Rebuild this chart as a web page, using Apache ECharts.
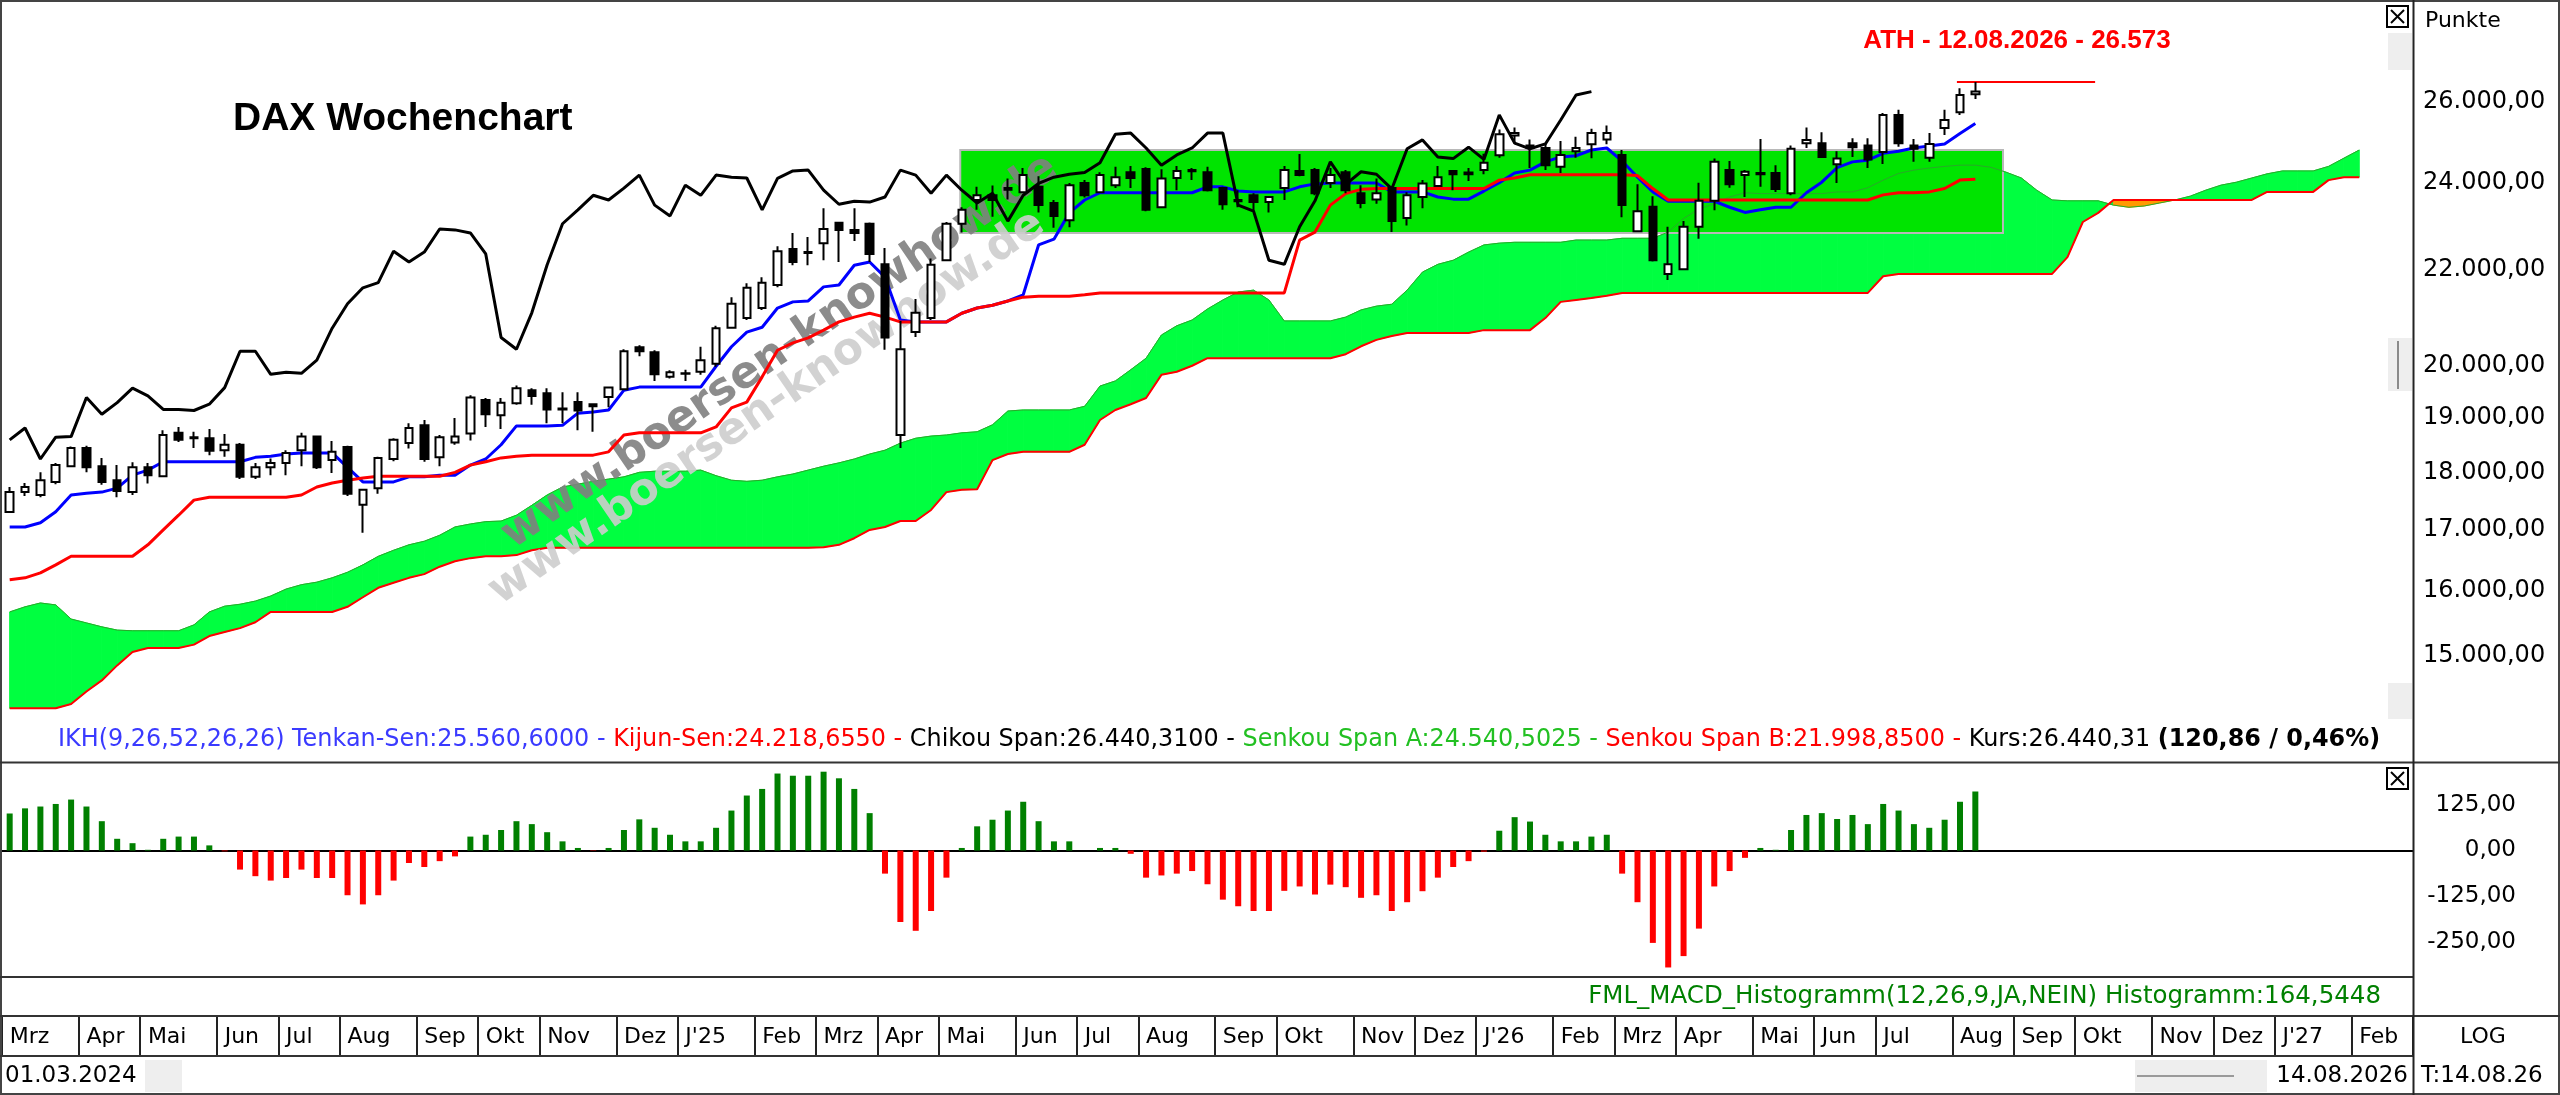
<!DOCTYPE html>
<html><head><meta charset="utf-8">
<script src="https://cdn.jsdelivr.net/npm/echarts@6/dist/echarts.min.js"></script>
<style>html,body{margin:0;padding:0;background:#fff}#c{width:2560px;height:1095px}</style>
</head><body><div id="c"></div>
<script>
// ---- weekly DAX data (index 0 = week of 01.03.2024, last = 14.08.2026) ----
const opens = [17305,17650,17600,17830,18110,18440,18110,17860,17650,18090,
17930,18720,18640,18620,18400,18500,17920,18090,18170,18400,
18650,18220,18460,17430,17720,18240,18530,18860,18270,18540,
18710,19340,19050,19280,19530,19470,19180,19300,19220,19400,
19550,20380,20280,19790,19850,19890,20050,20780,20980,21190,
21680,22470,22380,22600,23060,22900,23040,22130,18680,20690,
20980,22220,23040,23590,23700,23830,23770,23900,23520,23120,
23990,23770,23940,24250,24330,23420,24110,24270,24250,23870,
23590,23700,23540,23870,24280,24300,23990,24250,23750,23600,
23870,23170,23660,23920,24280,24200,24300,24660,25150,24900,
24840,24380,24760,24930,25050,24670,22870,23430,21920,22020,
22970,23570,24300,24180,24230,24230,23750,24960,24960,24440,
24960,24900,24740,25670,24900,24600,25340,25740,26200];
const closes = [17650,17740,17860,18130,18440,18090,17830,17670,18090,17950,
18680,18590,18620,18390,18500,17920,18090,18170,18350,18650,
18090,18370,17620,17690,18260,18590,18810,18240,18640,18650,
19390,19070,19290,19570,19420,19160,19160,19140,19260,19580,
20300,20300,19840,19880,19860,20120,20770,21280,21620,21730,
22420,22180,22400,22920,22900,22830,22360,20580,20340,21090,
22120,23040,23360,23700,23590,23870,24180,23470,23220,23940,
23700,24180,24130,24110,23360,24100,24280,24300,23820,23490,
23560,23540,23660,24300,24180,23750,24180,23820,23520,23750,
23100,23700,23980,24130,24200,24240,24480,25180,25210,24840,
24420,24670,24840,25210,25210,23470,23330,22220,22130,22970,
23570,24500,23960,24260,24200,23850,24820,25040,24620,24580,
24860,24560,25670,24960,24820,24940,25540,26180,26270];
const lows = [17290,17580,17560,17790,18090,18000,17780,17560,17600,17800,
17920,18550,18440,18310,18280,17880,17880,17950,17950,18110,
18060,17990,17580,16950,17620,18200,18430,18190,18110,18500,
18580,18830,18790,19250,19250,18900,18900,18770,18740,19200,
19530,20200,19710,19760,19710,19830,19990,20760,20940,21150,
21630,22110,22110,22220,22180,22650,22180,20330,18440,20590,
20940,22200,22840,23360,23200,23600,23750,23300,22950,22960,
23650,23750,23870,23870,23330,23400,23820,24060,23790,23360,
23420,23340,23300,23590,24150,23700,23870,23750,23400,23500,
22850,23000,23400,23900,23820,24040,24200,24600,24950,24350,
24300,24230,24600,24590,24930,23190,22850,22190,21790,22000,
22700,23350,23880,23660,23900,23780,23700,24840,24600,23990,
24620,24350,24450,24870,24500,24500,25160,25670,26080];
const highs = [17740,17810,18000,18170,18470,18480,18260,18130,18180,18170,
18770,18830,18740,18790,18700,18530,18170,18250,18400,18720,
18660,18570,18480,17710,18280,18620,18900,18960,18680,19000,
19430,19380,19380,19620,19570,19570,19490,19490,19280,19600,
20340,20420,20320,19920,19930,20390,20820,21420,21720,21850,
22530,22830,22740,23400,23080,23400,23070,22490,20920,21380,
22260,23080,23420,23900,23930,24100,24350,24150,23590,23990,
24060,24250,24380,24400,24370,24320,24400,24350,24380,23900,
23820,23750,23680,24400,24690,24350,24350,24300,23940,24100,
23880,23770,24060,24400,24300,24350,24700,25300,25350,25050,
24960,25010,25120,25320,25400,24790,23960,23680,22970,23100,
24000,24580,24520,24300,25060,24420,24900,25350,25230,24760,
25080,25080,25720,25800,25060,25210,25800,26360,26520];
const tenkan = [17050,17050,17120,17310,17600,17630,17650,17720,17950,18040,
18190,18190,18190,18190,18190,18190,18270,18290,18330,18350,
18350,18350,18090,17830,17830,17830,17920,17920,17950,17950,
18130,18240,18500,18850,18850,18850,18860,19090,19110,19150,
19530,19590,19590,19590,19590,19590,20000,20390,20690,20790,
21190,21320,21340,21640,21680,22110,22180,21850,20940,20900,
20900,20900,21080,21190,21250,21340,21470,22560,22690,23290,
23590,23760,23760,23760,23760,23760,23760,23760,23900,23900,
23800,23780,23780,23780,23900,23970,23990,23990,23990,23990,
23780,23780,23780,23660,23610,23610,23800,24000,24230,24300,
24500,24620,24650,24790,24840,24520,24130,23780,23560,23560,
23560,23560,23420,23300,23360,23420,23420,23760,24010,24360,
24500,24540,24710,24760,24840,24890,24940,25200,25450];
const kijun = [16180,16210,16290,16420,16560,16560,16560,16560,16560,16750,
17000,17250,17510,17560,17560,17560,17560,17560,17560,17600,
17740,17810,17860,17900,17930,17930,17930,17930,17930,18000,
18130,18190,18260,18290,18310,18310,18310,18310,18310,18370,
18680,18720,18720,18720,18720,18720,18830,19190,19300,19790,
20320,20470,20570,20730,20900,21000,21080,21000,20900,20900,
20900,20900,21080,21190,21250,21340,21420,21440,21440,21440,
21470,21510,21510,21510,21510,21510,21510,21510,21510,21510,
21510,21510,21510,21510,22670,22850,23470,23740,23840,23860,
23860,23860,23860,23860,23860,23860,23860,24060,24110,24190,
24190,24190,24190,24190,24190,24190,24170,23860,23590,23590,
23590,23590,23590,23590,23590,23590,23590,23590,23590,23590,
23590,23590,23710,23760,23760,23780,23860,24060,24080];
const senkouA = [15670,15750,15810,15780,15560,15500,15440,15390,15380,15380,
15380,15380,15470,15670,15760,15790,15840,15920,16030,16100,
16140,16210,16300,16420,16560,16660,16750,16810,16910,17050,
17100,17140,17150,17250,17420,17600,17740,17790,17840,17880,
17920,18000,18020,18020,18020,18040,17940,17860,17840,17860,
17920,17970,18040,18110,18170,18240,18330,18400,18530,18620,
18660,18680,18720,18740,18870,19130,19150,19150,19150,19150,
19220,19610,19710,19930,20160,20630,20820,20940,21170,21360,
21530,21570,21360,20920,20920,20920,20920,21000,21150,21230,
21270,21570,21960,22130,22220,22400,22560,22600,22620,22620,
22620,22620,22670,22670,22670,22710,22710,22710,22850,23160,
23380,23500,23660,23760,23740,23740,23740,23740,23740,23780,
23780,23880,24060,24220,24300,24350,24390,24420,24420,24370,
24250,24110,23820,23590,23570,23570,23570,23470,23420,23450,
23520,23590,23680,23820,23940,24010,24110,24210,24280,24280,
24280,24390,24590,24790];
const senkouB = [14240,14240,14240,14240,14300,14480,14640,14860,15060,15120,
15120,15120,15170,15300,15360,15420,15510,15670,15670,15670,
15670,15670,15750,15900,16050,16130,16210,16270,16390,16480,
16530,16560,16560,16580,16660,16700,16700,16700,16700,16700,
16700,16700,16700,16700,16700,16700,16700,16700,16700,16700,
16700,16700,16700,16710,16750,16860,17000,17050,17150,17150,
17340,17650,17690,17700,18220,18330,18370,18370,18370,18370,
18500,18960,19150,19260,19380,19830,19890,20010,20160,20160,
20160,20160,20160,20160,20160,20160,20160,20240,20400,20530,
20610,20670,20670,20670,20670,20670,20730,20730,20730,20730,
20980,21320,21360,21400,21450,21510,21510,21510,21510,21510,
21510,21510,21510,21510,21510,21510,21510,21510,21510,21510,
21510,21510,21870,21920,21920,21920,21920,21920,21920,21920,
21920,21920,21920,21920,22290,23080,23290,23590,23590,23590,
23590,23590,23590,23590,23590,23590,23590,23780,23780,23780,
23780,24060,24130,24130];
const macdHist = [101,115,120,127,139,120,80,32,20,2,
32,38,38,14,-2,-52,-70,-82,-75,-52,
-75,-75,-122,-147,-122,-82,-34,-45,-29,-16,
38,43,56,80,72,50,25,7,-1,7,
56,85,62,43,25,25,62,109,150,168,
210,204,204,215,197,168,102,-63,-195,-219,
-165,-74,7,66,84,109,133,80,25,25,
0,7,7,-9,-74,-68,-63,-56,-92,-134,
-152,-165,-165,-110,-98,-120,-93,-100,-129,-122,
-165,-141,-111,-74,-45,-29,-3,54,91,79,
43,25,25,38,43,-63,-141,-252,-319,-288,
-213,-98,-56,-20,7,2,56,97,102,86,
97,72,127,109,72,62,84,133,161];
const chikouShift = 25;
// month axis: names and first weekly slot of each month (157 weekly slots incl. 26-week projection)
const monthNames = ['Mrz','Apr','Mai','Jun','Jul','Aug','Sep','Okt','Nov','Dez',"J'25",'Feb','Mrz','Apr','Mai','Jun','Jul','Aug','Sep','Okt','Nov','Dez',"J'26",'Feb','Mrz','Apr','Mai','Jun','Jul','Aug','Sep','Okt','Nov','Dez',"J'27",'Feb'];
const monthStartWeek = [0,5,9,14,18,22,27,31,35,40,44,49,53,57,61,66,70,74,79,83,88,92,96,101,105,109,114,118,122,127,131,135,140,144,148,153];
const totalSlots = 157;
const priceTicks = [15000,16000,17000,18000,19000,20000,22000,24000,26000];
const macdTicks = [-250,-125,0,125];
const rangeBox = [61.9, 129.8, 22830, 24790];   // marked consolidation zone
const athValue = 26520, athSpan = [126.8, 135.8];

// ---- helpers ----
function fmtDE(v){const neg=v<0;v=Math.abs(v);let [a,b]=v.toFixed(2).split('.');a=a.replace(/\B(?=(\d{3})+(?!\d))/g,'.');return (neg?'-':'')+a+','+b;}
const idx = arr => arr.map((v,i)=>[i,v]);
const candleData = opens.map((o,i)=>[i,o,closes[i],lows[i],highs[i]]);
const chikou = closes.slice(chikouShift).map((v,j)=>[j,v]);
const kumoSegs = senkouA.slice(0, -1).map((a,i)=>[i, a, senkouB[i], senkouA[i+1], senkouB[i+1]]);
const slots = Array.from({length: totalSlots}, (_, i) => String(i));
const monthAt = {}; monthStartWeek.forEach((w, k) => { monthAt[w] = monthNames[k]; });
const xMin = -0.5, xMax = totalSlots - 0.5;

const chart = echarts.init(document.getElementById('c'), null, {renderer:'canvas', width:2560, height:1095});
const hl = (x1,y1,x2,y2,w,c) => ({type:'line', z:20, silent:true, shape:{x1,y1,x2,y2}, style:{stroke:c||'#222', lineWidth:w||2}});
const txt = (text,x,y,font,fill,align,z) => ({type:'text', z:z||20, silent:true, x, y, style:{text, font, fill:fill||'#000', align:align||'left', verticalAlign:'middle'}});

const option = {
  animation:false,
  backgroundColor:'#fff',
  grid:[
    {left:2, top:2, width:2411, height:723},
    {left:2, top:764, width:2411, height:213},
    {left:2, top:1000, width:2411, height:17}
  ],
  xAxis:[
    {type:'value', gridIndex:0, min:xMin, max:xMax, show:false},
    {type:'value', gridIndex:1, min:xMin, max:xMax, axisLine:{show:true, onZero:true, lineStyle:{color:'#000', width:2}}, axisTick:{show:false}, axisLabel:{show:false}, splitLine:{show:false}},
    {type:'category', gridIndex:2, data:slots, boundaryGap:true, position:'bottom',
      axisLine:{show:false}, splitLine:{show:false},
      axisTick:{show:true, length:39, alignWithLabel:false, interval:(i)=> monthAt[i] !== undefined, lineStyle:{color:'#222', width:2}},
      axisLabel:{show:true, interval:(i)=> monthAt[i] !== undefined, margin:20, align:'left', verticalAlign:'middle',
        fontFamily:'DejaVu Sans', fontSize:22, color:'#000',
        formatter:(v, i) => monthAt[i] || ''}
    }
  ],
  yAxis:[
    {type:'log', gridIndex:0, position:'right', min:14006, max:28715, logBase:10,
      axisLine:{show:false}, splitLine:{show:false}, axisTick:{show:false},
      axisLabel:{show:true, customValues:priceTicks, margin:10, fontFamily:'DejaVu Sans', fontSize:24, color:'#000', formatter: v => fmtDE(v)}
    },
    {type:'value', gridIndex:1, position:'right', min:-345, max:236,
      axisLine:{show:false}, splitLine:{show:false}, axisTick:{show:false},
      axisLabel:{show:true, customValues:macdTicks, margin:103, align:'right', fontFamily:'DejaVu Sans', fontSize:23, color:'#000', formatter: v => fmtDE(v)}
    },
    {type:'value', gridIndex:2, show:false}
  ],
  series:[
    {name:'Kumo', type:'custom', xAxisIndex:0, yAxisIndex:0, data:kumoSegs, encode:{x:0, y:[1,2]}, silent:true, z:1,
      renderItem:(params, api) => {
        const i = api.value(0);
        const a0 = api.coord([i, api.value(1)]), b0 = api.coord([i, api.value(2)]);
        const a1 = api.coord([i+1, api.value(3)]), b1 = api.coord([i+1, api.value(4)]);
        const up = (api.value(1) + api.value(3)) >= (api.value(2) + api.value(4));
        const c = up ? '#00ff40' : '#ff9a00';
        return {type:'polygon', shape:{points:[a0, a1, b1, b0]}, style:{fill:c, stroke:c, lineWidth:1}};
      }},
    {name:'Senkou Span A', type:'line', xAxisIndex:0, yAxisIndex:0, data:idx(senkouA), symbol:'none', lineStyle:{color:'#2aa82a', width:1}, z:3,
      markArea:{silent:true, z:2, itemStyle:{color:'#00e400', borderColor:'#b8b8b8', borderWidth:2},
        data:[[{coord:[rangeBox[0], rangeBox[3]]},{coord:[rangeBox[1], rangeBox[2]]}]]}},
    {name:'Senkou Span B', type:'line', xAxisIndex:0, yAxisIndex:0, data:idx(senkouB), symbol:'none', lineStyle:{color:'#ff0000', width:2}, z:3},
    {name:'Tenkan-Sen', type:'line', xAxisIndex:0, yAxisIndex:0, data:idx(tenkan), symbol:'none', lineStyle:{color:'#0000ff', width:3}, z:5},
    {name:'Kijun-Sen', type:'line', xAxisIndex:0, yAxisIndex:0, data:idx(kijun), symbol:'none', lineStyle:{color:'#ff0000', width:3}, z:6},
    {name:'Chikou Span', type:'line', xAxisIndex:0, yAxisIndex:0, data:chikou, symbol:'none', lineStyle:{color:'#000', width:3}, z:6},
    {name:'ATH', type:'line', xAxisIndex:0, yAxisIndex:0, data:[[athSpan[0], athValue],[athSpan[1], athValue]], symbol:'none', lineStyle:{color:'#ff0000', width:2}, z:6},
    {name:'DAX', type:'candlestick', xAxisIndex:0, yAxisIndex:0, data:candleData, encode:{x:0, y:[1,2,3,4]}, barWidth:8,
      itemStyle:{color:'#fff', color0:'#000', borderColor:'#000', borderColor0:'#000', borderWidth:2}, z:7},
    {name:'MACD Histogramm', type:'bar', xAxisIndex:1, yAxisIndex:1, data:idx(macdHist), barWidth:6,
      itemStyle:{color: p => p.value[1] >= 0 ? '#008000' : '#ff0000'}, z:3}
  ],
  graphic:[
    {type:'text', z:4, silent:true, x:767, y:408, rotation:0.602, style:{text:'www.boersen-knowhow.de', font:'bold 44px "DejaVu Sans"', fill:'rgba(205,205,205,0.9)', align:'center', verticalAlign:'middle'}},
    {type:'text', z:4, silent:true, x:780, y:352, rotation:0.602, style:{text:'www.boersen-knowhow.de', font:'bold 44px "DejaVu Sans"', fill:'rgba(128,128,128,0.9)', align:'center', verticalAlign:'middle'}},
    {type:'rect', z:0, silent:true, shape:{x:2388, y:33, width:24, height:37}, style:{fill:'#eeeeee'}},
    {type:'rect', z:0, silent:true, shape:{x:2388, y:338, width:24, height:53}, style:{fill:'#eeeeee'}},
    hl(2398,341,2398,389,2,'#8a8a8a'),
    {type:'rect', z:0, silent:true, shape:{x:2388, y:683, width:24, height:36}, style:{fill:'#eeeeee'}},
    {type:'rect', z:0, silent:true, shape:{x:145, y:1060, width:37, height:32}, style:{fill:'#eeeeee'}},
    {type:'rect', z:0, silent:true, shape:{x:2135, y:1060, width:132, height:32}, style:{fill:'#eeeeee'}},
    hl(2137,1076,2234,1076,2,'#999'),
    {type:'rect', z:20, silent:true, shape:{x:1, y:1, width:2558, height:1093}, style:{fill:null, stroke:'#444', lineWidth:2}},
    hl(0,762.5,2560,762.5,2,'#333'),
    hl(0,977,2413,977,2,'#333'),
    hl(0,1016,2560,1016,2,'#333'),
    hl(0,1056,2413,1056,2,'#333'),
    hl(2413.5,0,2413.5,1095,2,'#222'),
    {type:'rect', z:20, silent:true, shape:{x:2387, y:6, width:21, height:21}, style:{fill:'#fff', stroke:'#000', lineWidth:2}},
    hl(2391,10,2404,23,2,'#000'), hl(2404,10,2391,23,2,'#000'),
    {type:'rect', z:20, silent:true, shape:{x:2387, y:768, width:21, height:21}, style:{fill:'#fff', stroke:'#000', lineWidth:2}},
    hl(2391,772,2404,785,2,'#000'), hl(2404,772,2391,785,2,'#000'),
    txt('DAX Wochenchart', 233, 119, 'bold 39px "Liberation Sans", Arial, sans-serif', '#000'),
    txt('ATH - 12.08.2026 - 26.573', 2017, 41, 'bold 26px "Liberation Sans", Arial, sans-serif', '#ff0000', 'center'),
    txt('Punkte', 2425, 21, '22px "DejaVu Sans"', '#000'),
    {type:'text', z:20, silent:true, x:58, y:740, style:{
      text:'{b|IKH(9,26,52,26,26) Tenkan-Sen:25.560,6000 - }{r|Kijun-Sen:24.218,6550 - }{k|Chikou Span:26.440,3100 - }{g|Senkou Span A:24.540,5025 - }{r|Senkou Span B:21.998,8500 - }{k|Kurs:26.440,31 }{kb|(120,86 / 0,46%)}',
      verticalAlign:'middle', align:'left',
      rich:{
        b:{fill:'#3a3aff', font:'23.9px "DejaVu Sans"'},
        r:{fill:'#ff0000', font:'23.9px "DejaVu Sans"'},
        k:{fill:'#000', font:'23.9px "DejaVu Sans"'},
        g:{fill:'#22c022', font:'23.9px "DejaVu Sans"'},
        kb:{fill:'#000', font:'bold 23.9px "DejaVu Sans"'}
      }}},
    txt('FML_MACD_Histogramm(12,26,9,JA,NEIN) Histogramm:164,5448', 2381, 997, '24.5px "DejaVu Sans"', '#008000', 'right'),
    txt('LOG', 2483, 1037, '22px "DejaVu Sans"', '#000', 'center'),
    txt('01.03.2024', 5, 1076, '23px "DejaVu Sans"', '#000'),
    txt('14.08.2026', 2408, 1076, '23px "DejaVu Sans"', '#000', 'right'),
    txt('T:14.08.26', 2421, 1076, '23px "DejaVu Sans"', '#000')
  ]
};
chart.setOption(option);
</script></body></html>
